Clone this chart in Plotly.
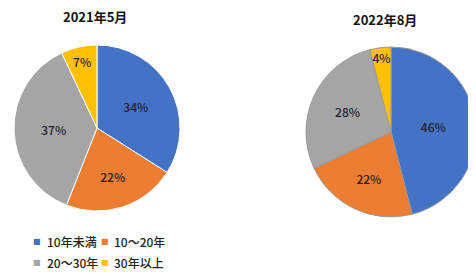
import plotly.graph_objects as go

categories = ["10年未満", "10〜20年", "20〜30年", "30年以上"]
values_2021 = [34, 22, 37, 7]
values_2022 = [46, 22, 28, 4]
titles = ["2021年5月", "2022年8月"]
colors = ["#4472C4", "#ED7D31", "#A5A5A5", "#FFC000"]

# page is 476x273; the html body adds an 8px margin, so the figure is 468x265
OFF = 8
W, H = 468, 265
FONT = "Noto Sans CJK JP"


def fx(px):
    return (px - OFF) / W


def fy(py):
    return 1 - (py - OFF) / H


def dom(x0, x1, y0, y1):
    return dict(x=[max(0, fx(x0)), min(1, fx(x1))], y=[max(0, fy(y1)), min(1, fy(y0))])


fig = go.Figure()

fig.add_trace(go.Pie(
    labels=categories, values=values_2021, sort=False, direction="clockwise",
    rotation=0, marker=dict(colors=colors, line=dict(color="white", width=1)),
    texttemplate="%{percent:.0%}", textposition="inside",
    insidetextorientation="horizontal",
    textfont=dict(family=FONT, size=12, color="#1f1f2f", weight=500),
    domain=dom(14, 180, 45, 211), showlegend=False, hoverinfo="label+percent",
))
fig.add_trace(go.Pie(
    labels=categories, values=values_2022, sort=False, direction="clockwise",
    rotation=0, marker=dict(colors=colors, line=dict(color="#9a9a9a", width=1)),
    texttemplate="%{percent:.0%}", textposition="inside",
    insidetextorientation="horizontal",
    textfont=dict(family=FONT, size=12, color="#1f1f2f", weight=500),
    domain=dom(306, 476, 47, 217), showlegend=False, hoverinfo="label+percent",
))

annotations = [
    dict(text="<b>" + titles[0] + "</b>", x=fx(95), y=fy(17)),
    dict(text="<b>" + titles[1] + "</b>", x=fx(385), y=fy(20)),
]
for a in annotations:
    a.update(xref="paper", yref="paper", showarrow=False, xanchor="center", yanchor="middle",
             font=dict(family=FONT, size=13, color="#111"))

# legend laid out as a 2 x 2 grid, as in the reference
col_sq = [37, 105]
col_tx = [45, 112]
row_y = [241, 262]
for i, (name, col) in enumerate(zip(categories, colors)):
    r, c = divmod(i, 2)
    annotations.append(dict(text="■", x=fx(col_sq[c]), y=fy(row_y[r]), xref="paper", yref="paper",
                            showarrow=False, xanchor="center", yanchor="middle",
                            font=dict(family="DejaVu Sans", size=8, color=col)))
    annotations.append(dict(text=name, x=fx(col_tx[c]), y=fy(row_y[r]), xref="paper", yref="paper",
                            showarrow=False, xanchor="left", yanchor="middle",
                            font=dict(family=FONT, size=12, color="#222", weight=500)))

fig.update_layout(
    width=W, height=H, margin=dict(l=0, r=0, t=0, b=0),
    paper_bgcolor="white", showlegend=False,
    uniformtext=dict(minsize=12, mode="show"),
    annotations=annotations,
)

fig.write_html("out.html")
